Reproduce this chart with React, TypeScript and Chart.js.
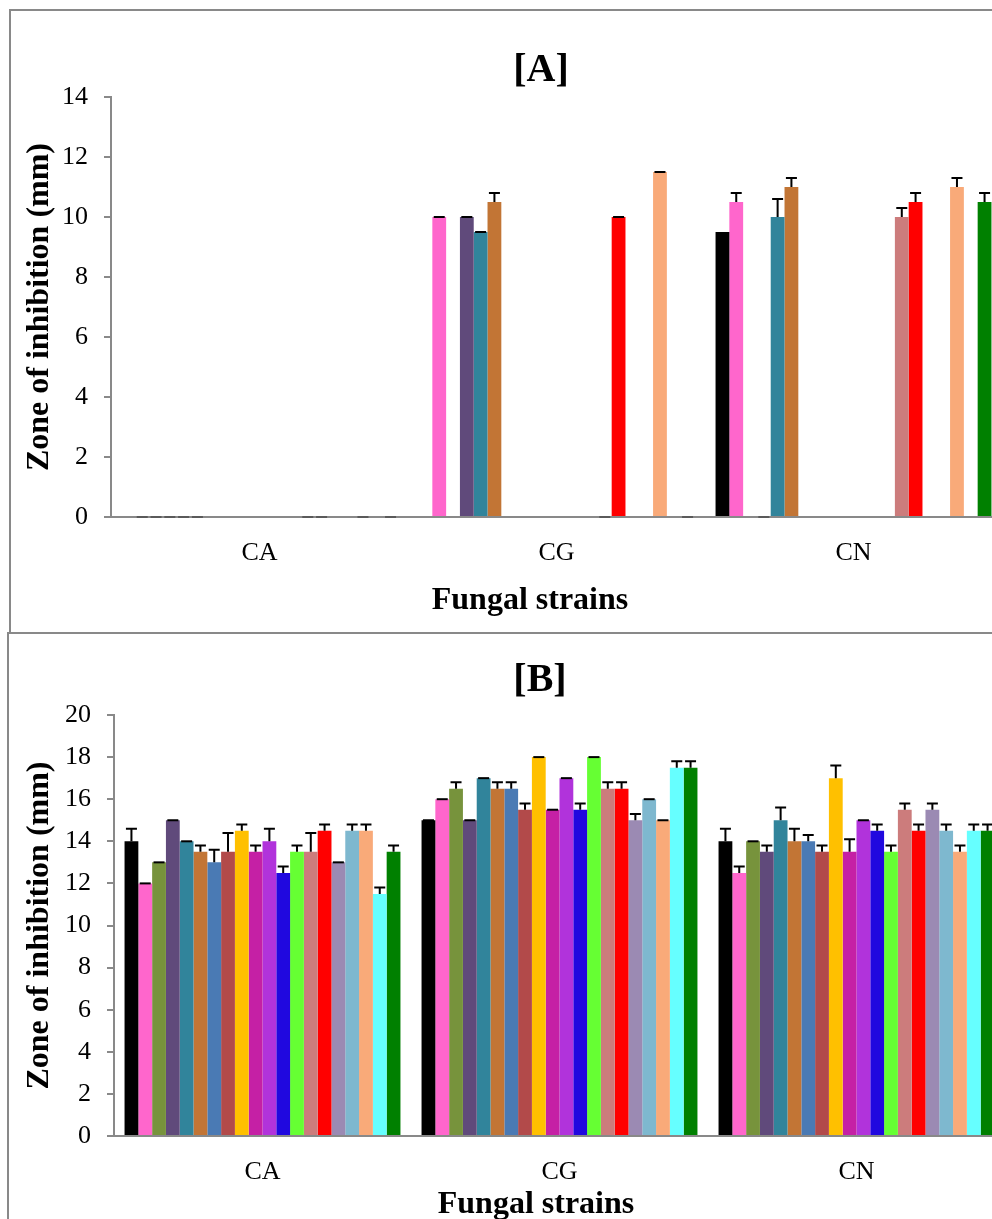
import React, { useEffect, useRef } from "react";
import { Chart, registerables } from "chart.js";

Chart.register(...registerables);

// ---------- data ----------
const categories = ["CA", "CG", "CN"];
const seriesNames = [
  "Series 1", "Series 2", "Series 3", "Series 4", "Series 5",
  "Series 6", "Series 7", "Series 8", "Series 9", "Series 10",
  "Series 11", "Series 12", "Series 13", "Series 14", "Series 15",
  "Series 16", "Series 17", "Series 18", "Series 19", "Series 20",
];
const seriesColors = [
  "#000000", "#FF66CC", "#77933C", "#604A7B", "#31849B",
  "#C27535", "#4A7AB4", "#B24A4A", "#FFC000", "#C520A5",
  "#B133DB", "#2008DF", "#66FF33", "#CC7C7C", "#FF0000",
  "#9B8AB3", "#7EB8CF", "#F9AA79", "#66FFFF", "#008000",
];

// Panel [A] values per category (one value per series)
const caA = [0, 0, 0, 0, 0, 0, 0, 0, 0, 0, 0, 0, 0, 0, 0, 0, 0, 0, 0, 0];
const cgA = [0, 10, 0, 10, 9.5, 10.5, 0, 0, 0, 0, 0, 0, 0, 0, 10, 0, 0, 11.5, 0, 0];
const cnA = [9.5, 10.5, 0, 0, 10, 11, 0, 0, 0, 0, 0, 0, 0, 10, 10.5, 0, 0, 11, 0, 10.5];
// Panel [A] error bars (null = no error bar)
const errCaA = [null, 0, 0, 0, 0, 0, null, null, null, null, null, null, null, 0, 0, null, null, 0, null, 0];
const errCgA = [null, 0, null, 0, 0, 0.3, null, null, null, null, null, null, null, 0, 0, null, null, 0, null, 0];
const errCnA = [null, 0.3, null, 0, 0.6, 0.3, null, null, null, null, null, null, null, 0.3, 0.3, null, null, 0.3, null, 0.3];

// Panel [B] values per category
const caB = [14, 12, 13, 15, 14, 13.5, 13, 13.5, 14.5, 13.5, 14, 12.5, 13.5, 13.5, 14.5, 13, 14.5, 14.5, 11.5, 13.5];
const cgB = [15, 16, 16.5, 15, 17, 16.5, 16.5, 15.5, 18, 15.5, 17, 15.5, 18, 16.5, 16.5, 15, 16, 15, 17.5, 17.5];
const cnB = [14, 12.5, 14, 13.5, 15, 14, 14, 13.5, 17, 13.5, 15, 14.5, 13.5, 15.5, 14.5, 15.5, 14.5, 13.5, 14.5, 14.5];
const errCaB = [0.6, 0, 0, 0, 0, 0.3, 0.6, 0.9, 0.3, 0.3, 0.6, 0.3, 0.3, 0.9, 0.3, 0, 0.3, 0.3, 0.3, 0.3];
const errCgB = [0, 0, 0.3, 0, 0, 0.3, 0.3, 0.3, 0, 0, 0, 0.3, 0, 0.3, 0.3, 0.3, 0, 0, 0.3, 0.3];
const errCnB = [0.6, 0.3, 0, 0.3, 0.6, 0.6, 0.3, 0.3, 0.6, 0.6, 0, 0.3, 0.3, 0.3, 0.3, 0.3, 0.3, 0.3, 0.3, 0.3];

const panelTitles = ["[A]", "[B]"];
const xTitle = "Fungal strains";
const yTitle = "Zone of inhibition (mm)";

const FONT = "'Liberation Serif', 'Times New Roman', serif";
const AXIS_GREY = "#898989";

type PanelProps = {
  values: number[][];
  errors: (number | null)[][];
  yMax: number;
  title: string;
  top: number;
  height: number;
  pad: { top: number; right: number };
  yWidth: number;
  plotBottom: number;
  titlePos: { x: number; y: number };
  xTitlePos: { x: number; y: number };
};

const CANVAS_W = 1080;

function Panel(p: PanelProps) {
  const ref = useRef<HTMLCanvasElement | null>(null);
  useEffect(() => {
    if (!ref.current) return;
    const datasets = seriesNames.map((name, si) => ({
      label: name,
      data: p.values.map((cat) => cat[si]),
      backgroundColor: seriesColors[si],
      borderWidth: 0,
      categoryPercentage: 0.929,
      barPercentage: 1.0,
    }));

    const errorBars = {
      id: "errorBars",
      afterDatasetsDraw(chart: any) {
        const ctx = chart.ctx;
        const ys = chart.scales.y;
        ctx.save();
        chart.data.datasets.forEach((ds: any, si: number) => {
          const meta = chart.getDatasetMeta(si);
          meta.data.forEach((bar: any, ci: number) => {
            const e = p.errors[ci][si];
            if (e === null || e === undefined) return;
            const v = ds.data[ci];
            const yTop = ys.getPixelForValue(v);
            const yE = ys.getPixelForValue(v + e);
            ctx.strokeStyle = v === 0 ? "#5a5a5a" : "#000000";
            ctx.lineWidth = 2;
            ctx.beginPath();
            if (e > 0) {
              ctx.moveTo(bar.x, yTop);
              ctx.lineTo(bar.x, yE);
            }
            ctx.moveTo(bar.x - 5.5, yE);
            ctx.lineTo(bar.x + 5.5, yE);
            ctx.stroke();
          });
        });
        ctx.restore();
      },
    };

    const texts = {
      id: "panelTexts",
      afterDraw(chart: any) {
        const ctx = chart.ctx;
        ctx.save();
        ctx.fillStyle = "#000";
        ctx.textAlign = "center";
        ctx.textBaseline = "alphabetic";
        ctx.font = `bold 40px ${FONT}`;
        ctx.fillText(p.title, p.titlePos.x, p.titlePos.y);
        ctx.font = `bold 32px ${FONT}`;
        ctx.fillText(xTitle, p.xTitlePos.x, p.xTitlePos.y);
        ctx.restore();
      },
    };

    const chart = new Chart(ref.current, {
      type: "bar",
      data: { labels: categories, datasets },
      plugins: [errorBars, texts],
      options: {
        animation: false,
        responsive: false,
        devicePixelRatio: 1,
        layout: { padding: { top: p.pad.top, right: p.pad.right, bottom: 0, left: 0 } },
        plugins: { legend: { display: false }, tooltip: { enabled: false }, title: { display: false } },
        scales: {
          x: {
            grid: { display: false, drawTicks: false },
            border: { display: true, color: AXIS_GREY, width: 2 },
            ticks: { color: "#000", font: { family: FONT, size: 26 }, padding: 21, maxRotation: 0 },
            afterFit: (s: any) => {
              s.height = p.height - p.plotBottom;
            },
          },
          y: {
            min: 0,
            max: p.yMax,
            ticks: { stepSize: 2, color: "#000", font: { family: FONT, size: 26 }, padding: 16 },
            grid: { display: true, drawOnChartArea: false, drawTicks: true, tickLength: 7, color: AXIS_GREY, lineWidth: 2 },
            border: { display: true, color: AXIS_GREY, width: 2 },
            title: {
              display: true,
              text: yTitle,
              color: "#000",
              font: { family: FONT, size: 32, weight: "bold" },
              padding: { top: 21, bottom: 0 },
            },
            afterFit: (s: any) => {
              s.width = p.yWidth;
            },
          },
        },
      } as any,
    });
    return () => chart.destroy();
  }, []);

  return (
    <div style={{ position: "absolute", left: 0, top: p.top, width: CANVAS_W, height: p.height }}>
      <canvas ref={ref} width={CANVAS_W} height={p.height} style={{ width: CANVAS_W, height: p.height, display: "block" }} />
    </div>
  );
}

export default function App() {
  const box = (left: number, top: number, height: number) => (
    <div
      style={{
        position: "absolute",
        left,
        top,
        width: 1200,
        height,
        border: `2px solid ${AXIS_GREY}`,
        boxSizing: "border-box",
        pointerEvents: "none",
      }}
    />
  );
  return (
    <div style={{ position: "fixed", left: 0, top: 0, width: 992, height: 1219, overflow: "hidden", background: "#fff" }}>
      <Panel
        values={[caA, cgA, cnA]}
        errors={[errCaA, errCgA, errCnA]}
        yMax={14}
        title={panelTitles[0]}
        top={10}
        height={622}
        pad={{ top: 87, right: 78 }}
        yWidth={111}
        plotBottom={507}
        titlePos={{ x: 541, y: 71 }}
        xTitlePos={{ x: 530, y: 599 }}
      />
      <Panel
        values={[caB, cgB, cnB]}
        errors={[errCaB, errCgB, errCnB]}
        yMax={20}
        title={panelTitles[1]}
        top={633}
        height={600}
        pad={{ top: 82, right: 75 }}
        yWidth={114}
        plotBottom={503}
        titlePos={{ x: 540, y: 58 }}
        xTitlePos={{ x: 536, y: 580 }}
      />
      {box(9, 9, 625)}
      {box(7, 632, 700)}
    </div>
  );
}
